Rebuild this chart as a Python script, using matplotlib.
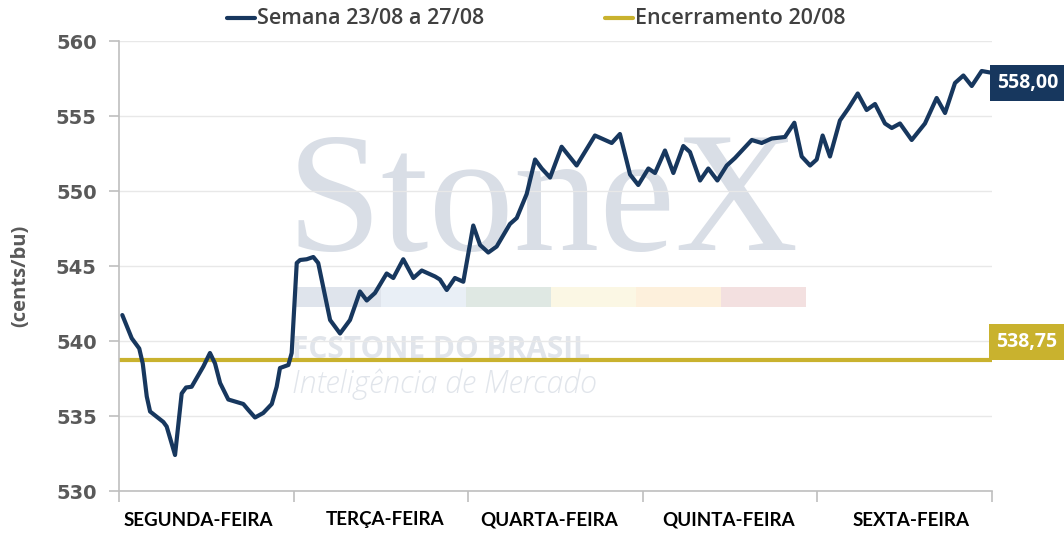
import matplotlib
matplotlib.use("Agg")
import matplotlib.pyplot as plt
from matplotlib.patches import Rectangle
from matplotlib.lines import Line2D
import matplotlib.transforms as mtransforms

# ---- data ----
days = ["SEGUNDA-FEIRA", "TERÇA-FEIRA", "QUARTA-FEIRA", "QUINTA-FEIRA", "SEXTA-FEIRA"]
day_label_pos = [0.452, 1.523, 2.461, 3.494, 4.536]

t = [0.019, 0.073, 0.116, 0.136, 0.159, 0.178, 0.254, 0.273, 0.321, 0.359, 0.384, 0.416,
     0.483, 0.521, 0.550, 0.579, 0.626, 0.712, 0.741, 0.779, 0.826, 0.875, 0.903, 0.922,
     0.970, 0.989, 1.018, 1.037, 1.075, 1.113, 1.141, 1.209, 1.266, 1.323, 1.380, 1.419,
     1.466, 1.533, 1.571, 1.628, 1.686, 1.734, 1.810, 1.838, 1.877, 1.924, 1.972, 2.029,
     2.068, 2.115, 2.163, 2.239, 2.278, 2.335, 2.383, 2.421, 2.469, 2.535, 2.621, 2.726,
     2.822, 2.869, 2.927, 2.974, 3.032, 3.070, 3.127, 3.175, 3.232, 3.270, 3.328, 3.375,
     3.427, 3.481, 3.528, 3.624, 3.681, 3.738, 3.814, 3.868, 3.910, 3.958, 3.996, 4.030,
     4.072, 4.129, 4.177, 4.231, 4.282, 4.330, 4.387, 4.426, 4.473, 4.540, 4.616, 4.683,
     4.731, 4.788, 4.836, 4.884, 4.941, 4.989]
price = [541.73, 540.18, 539.5, 538.5, 536.3, 535.3, 534.6, 534.3, 532.4, 536.5, 536.9, 536.95,
         538.3, 539.2, 538.5, 537.2, 536.1, 535.8, 535.4, 534.9, 535.2, 535.8, 536.95, 538.2,
         538.4, 539.2, 545.2, 545.4, 545.45, 545.6, 545.2, 541.4, 540.5, 541.4, 543.3, 542.7,
         543.2, 544.5, 544.2, 545.45, 544.2, 544.7, 544.3, 544.1, 543.4, 544.2, 543.95, 547.7,
         546.4, 545.9, 546.3, 547.8, 548.2, 549.8, 552.1, 551.5, 550.9, 552.95, 551.7, 553.7,
         553.2, 553.8, 551.1, 550.4, 551.5, 551.2, 552.7, 551.2, 553.0, 552.6, 550.7, 551.5,
         550.7, 551.7, 552.2, 553.4, 553.2, 553.5, 553.6, 554.55, 552.3, 551.7, 552.1, 553.7,
         552.3, 554.7, 555.5, 556.5, 555.4, 555.8, 554.5, 554.2, 554.5, 553.4, 554.5, 556.2,
         555.2, 557.2, 557.7, 557.0, 558.0, 557.9]
close_prev = 538.75
last_label = "558,00"
close_label = "538,75"
series_names = ["Semana 23/08 a 27/08", "Encerramento 20/08"]
yticks = [530, 535, 540, 545, 550, 555, 560]

NAVY = "#17375e"
GOLD = "#c9b22e"
GRAY = "#595959"

W, H = 1064, 535
fig = plt.figure(figsize=(W/100, H/100), dpi=100)
ax = fig.add_axes([119/W, 44/H, (992-119)/W, (491-41)/H])
ax.set_xlim(0, 5)
ax.set_ylim(530, 560)

# watermark
ax.text(0.192, 0.536, "StoneX", transform=ax.transAxes, fontsize=123, family="Liberation Serif",
        color="#d9dee6", ha="left", va="baseline", zorder=0)
wcolors = ["#dfe4ec", "#e9eff6", "#dfe8e3", "#fbf7e4", "#fdf0dc", "#f3e0e0"]
for i, c in enumerate(wcolors):
    ax.add_patch(Rectangle((0.203 + i*0.0973, 0.408), 0.0973, 0.045, transform=ax.transAxes,
                           color=c, zorder=0, lw=0))
ax.text(0.198, 0.296, "FCSTONE DO BRASIL", transform=ax.transAxes, fontsize=21.5,
        family="Open Sans", weight="bold", color="#e1e5eb", ha="left", va="baseline", zorder=0)
ax.text(0.198, 0.218, "Inteligência de Mercado", transform=ax.transAxes, fontsize=22,
        family="Open Sans", weight="light", style="italic", color="#e1e5eb", ha="left",
        va="baseline", zorder=0)

# grid
ax.set_yticks(yticks)
ax.yaxis.grid(True, color="#e8e8e8", lw=1)
ax.set_axisbelow(True)

ax.plot(t, price, color=NAVY, lw=3.0, solid_joinstyle="round", solid_capstyle="round", zorder=3)
ax.axhline(close_prev, color=GOLD, lw=3.0, zorder=2, solid_capstyle="round")

for s in ["top", "right"]:
    ax.spines[s].set_visible(False)
for s in ["left", "bottom"]:
    ax.spines[s].set_color("#bfbfbf")
    ax.spines[s].set_linewidth(1.2)

ax.set_xticks(range(6))
ax.set_xticklabels([])
ax.tick_params(axis="x", length=8, color="#bfbfbf", width=1.2)
ax.tick_params(axis="y", length=7, color="#bfbfbf", width=1.2, pad=9)
ax.set_yticklabels([str(v) for v in yticks], fontsize=14, fontweight="bold", color=GRAY,
                   family="DejaVu Sans")

trans = mtransforms.blended_transform_factory(ax.transData, fig.transFigure)
for lab, pos in zip(days, day_label_pos):
    ax.text(pos, 1 - 520/H, lab, transform=trans, ha="center", va="center",
            fontsize=13.5, fontweight="bold", color="black", family="Lato")

fig.text(20/W, 1 - 276/H, "(cents/bu)", rotation=90, ha="center", va="center",
         fontsize=14.5, fontweight="bold", color=GRAY, family="Open Sans")

# value boxes
fig.text(1028/W, 1 - 83/H, last_label, ha="center", va="center", fontsize=14,
         color="white", fontweight="bold", family="Open Sans",
         bbox=dict(boxstyle="square,pad=0.4", fc=NAVY, ec="none"))
fig.text(1027/W, 1 - 342/H, close_label, ha="center", va="center", fontsize=14,
         color="white", fontweight="bold", family="Open Sans",
         bbox=dict(boxstyle="square,pad=0.4", fc=GOLD, ec="none"))

# legend (top)
for (x0, col, name) in [(227, NAVY, series_names[0]), (605, GOLD, series_names[1])]:
    fig.add_artist(Line2D([x0/W, (x0+28)/W], [1 - 18/H, 1 - 18/H], color=col, lw=3.0,
                          solid_capstyle="round", transform=fig.transFigure))
    fig.text((x0+30)/W, 1 - 18/H, name, ha="left", va="center", fontsize=15.5,
             color="#404040", family="Open Sans", fontweight="semibold")

fig.savefig("out.png", dpi=100)
